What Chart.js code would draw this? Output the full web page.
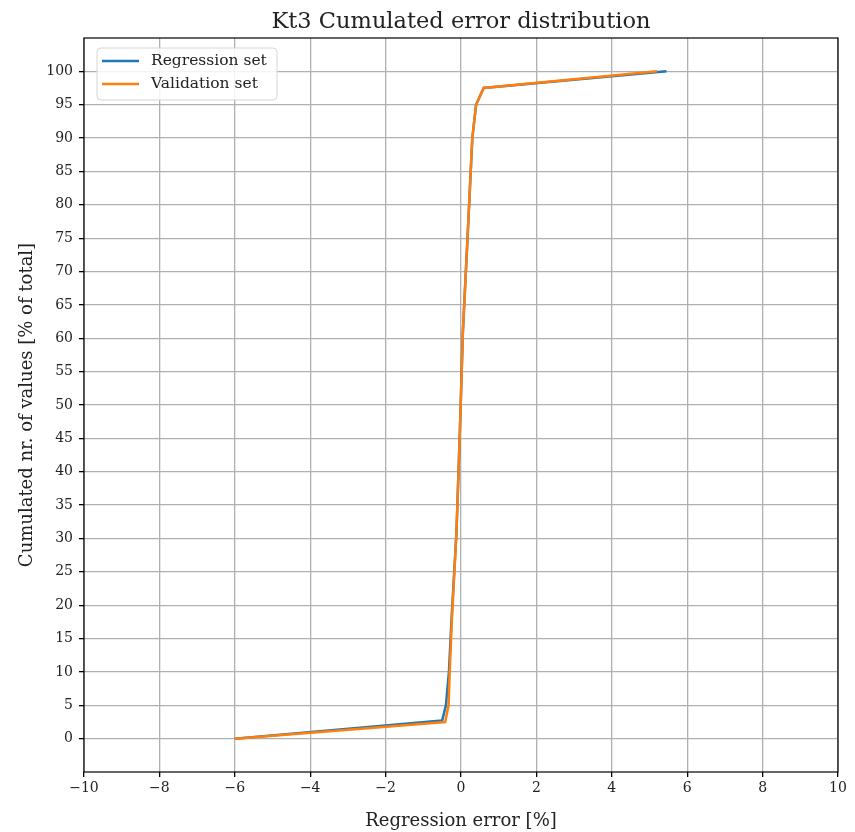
<!DOCTYPE html>
<html>
<head>
<title>Kt3 Cumulated error distribution</title>
<script src="https://cdn.jsdelivr.net/npm/chart.js@4.4.1/dist/chart.umd.min.js"></script>
<style>
  body { margin: 0; background: #fff; }
  #wrap { width: 855px; height: 832px; }
</style>
</head>
<body>
<div id="wrap"><canvas id="myChart" width="855" height="832"></canvas></div>
<script>
// cumulated error curves, x = regression error [%], y = cumulated share [%]
var regX = [-6.0, -0.50, -0.40, -0.32, -0.25, -0.12, -0.03, 0.05, 0.19, 0.30, 0.40, 0.60, 5.45];
var regY = [0, 2.7, 5, 10, 18, 31, 46, 61, 77, 90, 95, 97.5, 100];
var valX = [-6.0, -0.42, -0.33, -0.30, -0.24, -0.12, -0.03, 0.05, 0.19, 0.30, 0.40, 0.60, 5.20];
var valY = [0, 2.5, 5, 10, 18, 31, 46, 61, 77, 90, 95, 97.5, 100];
var xTicks = [-10, -8, -6, -4, -2, 0, 2, 4, 6, 8, 10];
var yTicks = [0, 5, 10, 15, 20, 25, 30, 35, 40, 45, 50, 55, 60, 65, 70, 75, 80, 85, 90, 95, 100];
var chartTitle = 'Kt3 Cumulated error distribution';

var serif = "'DejaVu Serif', 'Liberation Serif', serif";

function pts(xs, ys) {
  return xs.map(function (x, i) { return { x: x, y: ys[i] }; });
}

function minus(v) {
  return String(v).replace('-', '\u2212');
}

// black frame round the plot area, title centred over it
var frame = {
  id: 'frame',
  afterDatasetsDraw: function (chart) {
    var a = chart.chartArea, ctx = chart.ctx;
    ctx.save();
    ctx.strokeStyle = '#000';
    ctx.lineWidth = 1.2;
    ctx.strokeRect(a.left, a.top, a.right - a.left, a.bottom - a.top);
    ctx.font = '22.5px ' + serif;
    ctx.fillStyle = '#222';
    ctx.textAlign = 'center';
    ctx.textBaseline = 'alphabetic';
    ctx.fillText(chartTitle, (a.left + a.right) / 2, a.top - 10);
    ctx.restore();
  }
};

// legend box in the upper left corner, inside the axes
var innerLegend = {
  id: 'innerLegend',
  afterDraw: function (chart) {
    var a = chart.chartArea, ctx = chart.ctx;
    var x0 = a.left + 13, y0 = a.top + 10, w = 180, h = 52, r = 4;
    ctx.save();
    ctx.fillStyle = 'rgba(255,255,255,0.85)';
    ctx.strokeStyle = '#d6d6d6';
    ctx.lineWidth = 1;
    ctx.beginPath();
    ctx.roundRect(x0, y0, w, h, r);
    ctx.fill();
    ctx.stroke();
    ctx.font = '15.5px ' + serif;
    ctx.textBaseline = 'middle';
    chart.data.datasets.forEach(function (ds, i) {
      var yy = y0 + 13 + i * 23;
      ctx.strokeStyle = ds.borderColor;
      ctx.lineWidth = 2.5;
      ctx.beginPath();
      ctx.moveTo(x0 + 5, yy);
      ctx.lineTo(x0 + 42, yy);
      ctx.stroke();
      ctx.fillStyle = '#222';
      ctx.fillText(ds.label, x0 + 54, yy);
    });
    ctx.restore();
  }
};

var ctx = document.getElementById('myChart').getContext('2d');
new Chart(ctx, {
  type: 'scatter',
  data: {
    datasets: [
      {
        label: 'Regression set',
        data: pts(regX, regY),
        showLine: true,
        borderColor: '#1f77b4',
        borderWidth: 2.5,
        pointRadius: 0,
        tension: 0,
        order: 1
      },
      {
        label: 'Validation set',
        data: pts(valX, valY),
        showLine: true,
        borderColor: '#ff7f0e',
        borderWidth: 2.5,
        pointRadius: 0,
        tension: 0,
        order: 0
      }
    ]
  },
  options: {
    responsive: false,
    animation: false,
    layout: { padding: { left: 0, right: 17, top: 38, bottom: 0 } },
    plugins: {
      legend: { display: false },
      tooltip: { enabled: false },
      title: { display: false }
    },
    scales: {
      x: {
        type: 'linear',
        min: -10,
        max: 10,
        afterBuildTicks: function (s) { s.ticks = xTicks.map(function (v) { return { value: v }; }); },
        afterFit: function (s) { s.height = 60; },
        grid: { color: '#b0b0b0', lineWidth: 1.3, tickColor: '#000', tickLength: 5 },
        border: { display: false },
        ticks: {
          color: '#222',
          padding: 3,
          maxRotation: 0,
          font: { family: serif, size: 14 },
          callback: function (v) { return minus(v); }
        },
        title: {
          display: true,
          text: 'Regression error [%]',
          color: '#222',
          font: { family: serif, size: 18 },
          padding: { top: 0, bottom: 0 }
        }
      },
      y: {
        type: 'linear',
        min: -5,
        max: 105,
        afterBuildTicks: function (s) { s.ticks = yTicks.map(function (v) { return { value: v }; }); },
        afterFit: function (s) { s.width = 84; },
        grid: { color: '#b0b0b0', lineWidth: 1.3, tickColor: '#000', tickLength: 5 },
        border: { display: false },
        ticks: {
          color: '#222',
          padding: 6,
          font: { family: serif, size: 14 },
          callback: function (v) { return minus(v); }
        },
        title: {
          display: true,
          text: 'Cumulated nr. of values [% of total]',
          color: '#222',
          font: { family: serif, size: 18 },
          padding: { top: 17, bottom: 0 }
        }
      }
    }
  },
  plugins: [frame, innerLegend]
});
</script>
</body>
</html>
